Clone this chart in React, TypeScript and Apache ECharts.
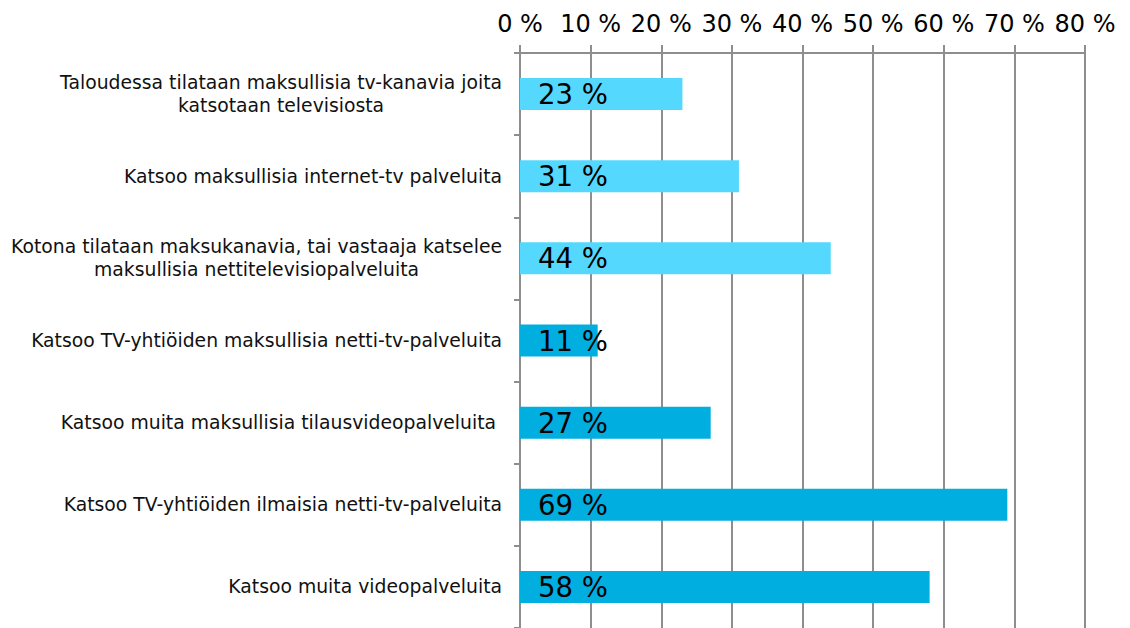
import React, { useEffect, useRef } from "react";
import * as echarts from "echarts";

const categories = [
  ["Taloudessa tilataan maksullisia tv-kanavia joita", "katsotaan televisiosta"],
  ["Katsoo maksullisia internet-tv palveluita"],
  ["Kotona tilataan maksukanavia, tai vastaaja katselee", "maksullisia nettitelevisiopalveluita"],
  ["Katsoo TV-yhtiöiden maksullisia netti-tv-palveluita"],
  ["Katsoo muita maksullisia tilausvideopalveluita "],
  ["Katsoo TV-yhtiöiden ilmaisia netti-tv-palveluita"],
  ["Katsoo muita videopalveluita"],
];
const values = [23, 31, 44, 11, 27, 69, 58];
const groups = ["pay", "pay", "pay", "other", "other", "other", "other"];
const xTicks = [0, 10, 20, 30, 40, 50, 60, 70, 80];

const groupColor: Record<string, string> = { pay: "#55D8FE", other: "#00AEDF" };

export default function App() {
  const ref = useRef<HTMLDivElement>(null);
  useEffect(() => {
    document.body.style.margin = "0";
    const chart = echarts.init(ref.current!, null, { renderer: "svg" });
    const font = "DejaVu Sans, Verdana, sans-serif";
    const gridColor = "#8e8e8e";
    chart.setOption({
      animation: false,
      backgroundColor: "#ffffff",
      grid: { left: 520, right: 45, top: 53, bottom: -3, containLabel: false },
      xAxis: {
        type: "value",
        position: "top",
        min: xTicks[0],
        max: xTicks[xTicks.length - 1],
        interval: 10,
        axisLine: { show: true, lineStyle: { color: gridColor, width: 2 } },
        axisTick: { show: true, length: 8, lineStyle: { color: gridColor, width: 2 } },
        splitLine: { show: true, lineStyle: { color: gridColor, width: 2 } },
        axisLabel: {
          formatter: "{value} %",
          color: "#000",
          fontSize: 24,
          fontFamily: font,
          margin: 17,
        },
      },
      yAxis: {
        type: "category",
        inverse: true,
        data: categories.map((c) => c.join("\n")),
        axisLine: { show: true, lineStyle: { color: gridColor, width: 2 } },
        axisTick: { show: true, length: 6, lineStyle: { color: gridColor, width: 2 } },
        axisLabel: {
          margin: 18,
          color: "#111",
          fontSize: 18.8,
          fontFamily: font,
          lineHeight: 23,
          formatter: (v: string) =>
            v
              .split("\n")
              .map((l) => "{c|" + l + "}")
              .join("\n"),
          rich: {
            c: { align: "center", fontSize: 18.8, fontFamily: font, color: "#111", lineHeight: 23 },
          },
        },
      },
      series: [
        {
          type: "bar",
          barWidth: 32,
          data: values.map((v, i) => ({
            value: v,
            itemStyle: { color: groupColor[groups[i]] },
          })),
          label: {
            show: true,
            position: "insideLeft",
            distance: 18,
            formatter: "{c} %",
            color: "#000",
            fontSize: 27.5,
            fontFamily: font,
          },
        },
      ],
    });
    return () => chart.dispose();
  }, []);
  return <div ref={ref} style={{ width: 1130, height: 628 }} />;
}
